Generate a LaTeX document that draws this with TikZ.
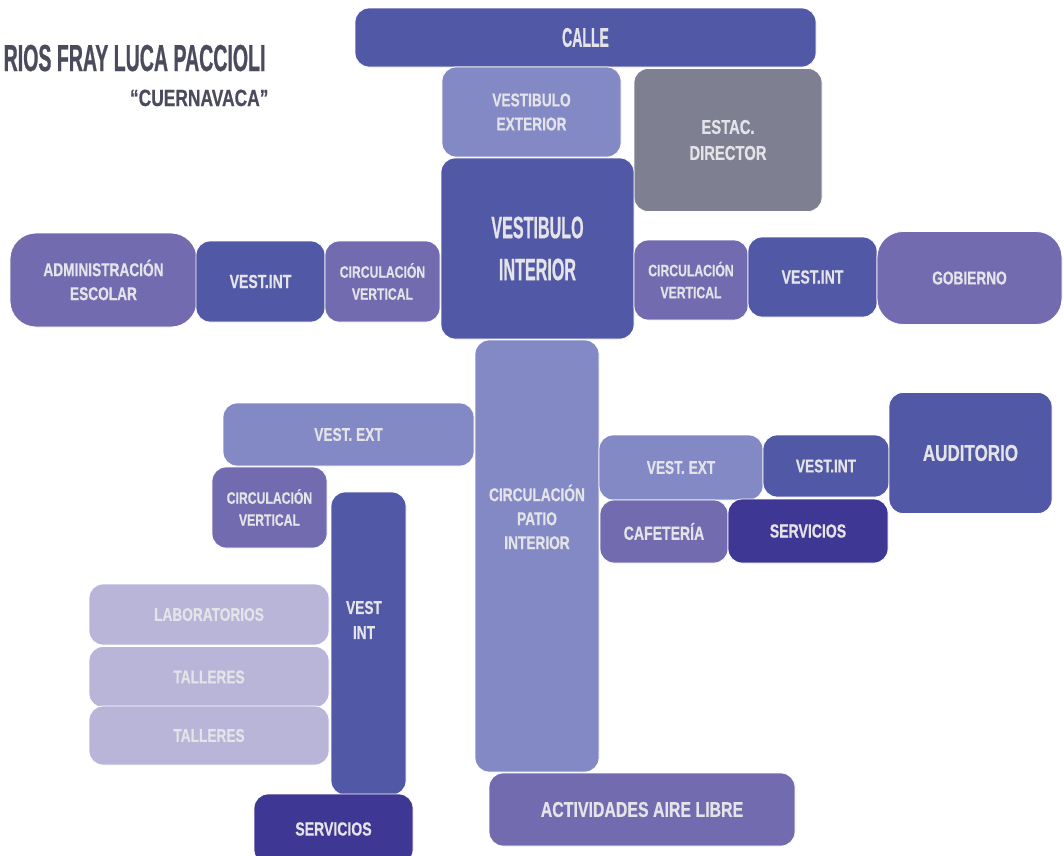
\documentclass[tikz,border=0pt]{standalone}
\usepackage{fontspec}
\setmainfont{Liberation Sans}[FakeStretch=0.74, FakeBold=0.6]
\newfontfamily\tightfont{Liberation Sans}[FakeStretch=0.52, FakeBold=0.6]
\newcommand{\fsz}[2]{\fontsize{#1}{#2}\selectfont}
\definecolor{darkblue}{HTML}{5158A6}
\definecolor{lightblue}{HTML}{8389C4}
\definecolor{purple}{HTML}{736BAF}
\definecolor{slate}{HTML}{7F7F92}
\definecolor{lavender}{HTML}{B8B5D8}
\definecolor{indigo}{HTML}{3F3794}
\definecolor{roomtext}{HTML}{E3E3E8}
\definecolor{titlegray}{HTML}{4B4B5E}

\begin{document}
\begin{tikzpicture}[x=1pt, y=-1pt,
    room/.style={draw=white, line width=0.8pt, rounded corners=14pt,
      inner sep=0pt, align=center, text=roomtext},
    bigroom/.style={room, rounded corners=26pt},
    lbl/.style={inner sep=0pt, align=center, text=roomtext}]
  \useasboundingbox (0,0) rectangle (1064,855);

  % title
  \node[anchor=base east, text=titlegray, font=\tightfont\bfseries\fsz{37.6}{40}] (title) at (269,71) {RIOS FRAY LUCA PACCIOLI};
  \node[anchor=base east, text=titlegray, font=\bfseries\fsz{23.5}{26}] (city) at (272,106) {“CUERNAVACA”};

  % top axis
  \node[room, fill=darkblue, minimum width=461pt, minimum height=59pt, font=\tightfont\bfseries\fsz{27}{30}] (calle) at (585.5,37.5) {CALLE};
  \node[room, fill=lightblue, minimum width=179pt, minimum height=90pt, font=\bfseries\fsz{18.5}{24}] (vestext) at (531.5,112) {VESTIBULO\\EXTERIOR};
  \node[room, fill=slate, minimum width=188pt, minimum height=143pt, font=\bfseries\fsz{20}{26}] (estac) at (728,140) {ESTAC.\\DIRECTOR};
  \node[room, fill=darkblue, minimum width=193pt, minimum height=181pt, font=\tightfont\bfseries\fsz{31}{42}] (vestint) at (537.5,248.5) {VESTIBULO\\INTERIOR};

  % left wing
  \node[bigroom, fill=purple, minimum width=187pt, minimum height=94pt, font=\bfseries\fsz{18.5}{24}] (admin) at (103.5,280) {ADMINISTRACIÓN\\ESCOLAR};
  \node[room, fill=darkblue, minimum width=129pt, minimum height=81pt, font=\bfseries\fsz{19}{24}] (vintL) at (260.5,281.5) {VEST.INT};
  \node[room, fill=purple, minimum width=115pt, minimum height=81pt, font=\bfseries\fsz{16.5}{22}] (circL) at (382.5,281.5) {CIRCULACIÓN\\VERTICAL};

  % right wing
  \node[room, fill=purple, minimum width=114pt, minimum height=80pt, font=\bfseries\fsz{16.5}{22}] (circR) at (691,280) {CIRCULACIÓN\\VERTICAL};
  \node[room, fill=darkblue, minimum width=129pt, minimum height=80pt, font=\bfseries\fsz{19}{24}] (vintR) at (812.5,277) {VEST.INT};
  \node[bigroom, fill=purple, minimum width=185pt, minimum height=93pt, font=\bfseries\fsz{18.5}{24}] (gob) at (969.5,278) {GOBIERNO};

  % patio
  \node[room, fill=lightblue, minimum width=124pt, minimum height=432pt] (patio) at (537,556) {};
  \node[lbl, font=\bfseries\fsz{18.5}{24}] (patiolbl) at (537,517) {CIRCULACIÓN\\PATIO\\INTERIOR};

  % lower left
  \node[room, fill=lightblue, minimum width=251pt, minimum height=63pt, font=\bfseries\fsz{18.5}{24}] (vextL) at (348.5,434.5) {VEST. EXT};
  \node[room, fill=purple, minimum width=115pt, minimum height=81pt, font=\bfseries\fsz{16.5}{22}] (circM) at (269.5,507.5) {CIRCULACIÓN\\VERTICAL};
  \node[room, fill=darkblue, minimum width=75pt, minimum height=303pt] (vintV) at (368.5,643.5) {};
  \node[lbl, font=\bfseries\fsz{18.5}{25}] (vintVlbl) at (364,620) {VEST\\INT};
  \node[room, fill=lavender, minimum width=240pt, minimum height=61pt, font=\bfseries\fsz{18.5}{24}] (lab) at (209,614.5) {LABORATORIOS};
  \node[room, fill=lavender, minimum width=240pt, minimum height=61pt, font=\bfseries\fsz{18.5}{24}] (tal1) at (209,677) {TALLERES};
  \node[room, fill=lavender, minimum width=240pt, minimum height=59pt, font=\bfseries\fsz{18.5}{24}] (tal2) at (209,735.5) {TALLERES};
  \node[room, fill=indigo, minimum width=159pt, minimum height=70pt, font=\bfseries\fsz{19}{24}] (servB) at (333.5,829) {SERVICIOS};

  % bottom
  \node[room, fill=purple, minimum width=306pt, minimum height=73pt, font=\bfseries\fsz{21.5}{26}] (aire) at (642,809.5) {ACTIVIDADES AIRE LIBRE};

  % lower right
  \node[room, fill=lightblue, minimum width=164pt, minimum height=65pt, font=\bfseries\fsz{18.5}{24}] (vextR) at (681,467.5) {VEST. EXT};
  \node[room, fill=darkblue, minimum width=126pt, minimum height=62pt, font=\bfseries\fsz{18.5}{24}] (vintM) at (826,466) {VEST.INT};
  \node[room, fill=darkblue, minimum width=163pt, minimum height=121pt, font=\bfseries\fsz{23}{26}] (audit) at (970.5,453) {AUDITORIO};
  \node[room, fill=purple, minimum width=128pt, minimum height=63pt, font=\bfseries\fsz{19}{24}] (cafe) at (664,531.5) {CAFETERÍA};
  \node[room, fill=indigo, minimum width=160pt, minimum height=64pt, font=\bfseries\fsz{19}{24}] (servM) at (808,531) {SERVICIOS};
\end{tikzpicture}
\end{document}
